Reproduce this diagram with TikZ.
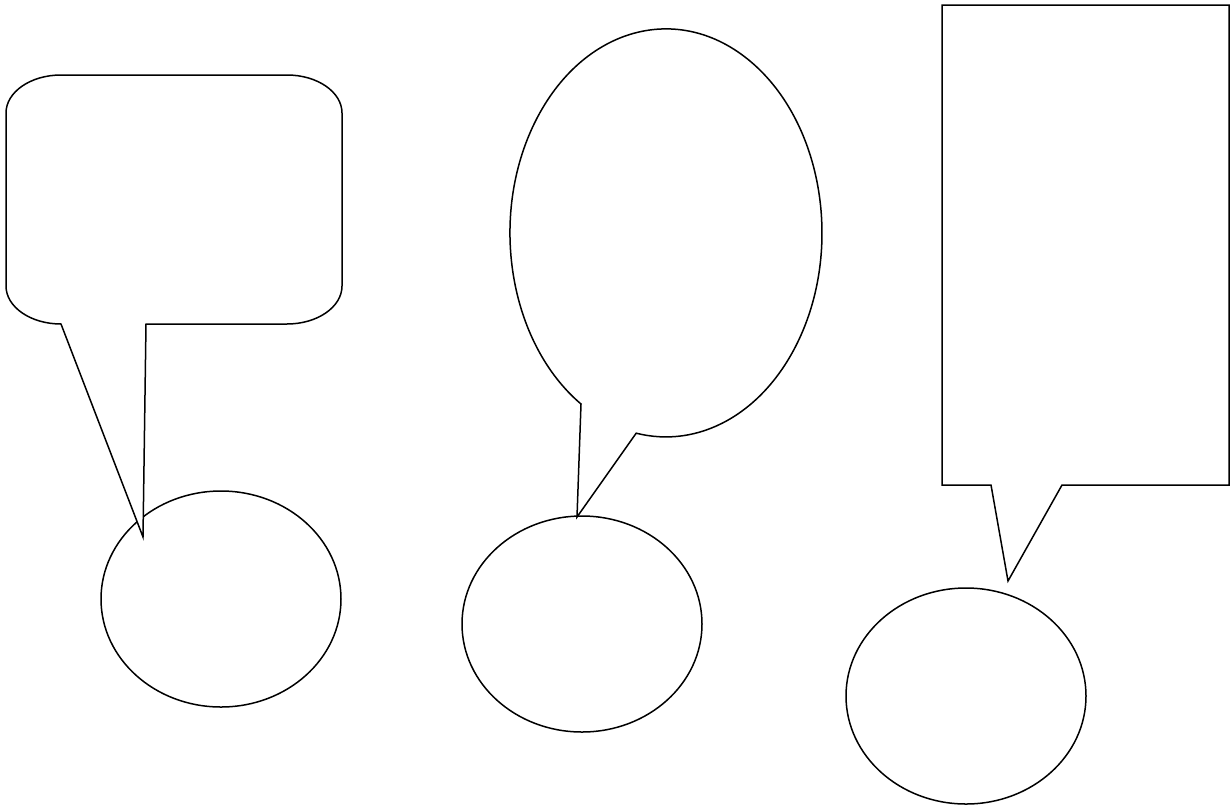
\documentclass[tikz,border=0pt]{standalone}
\usepackage{tikz}
\usetikzlibrary{shapes.geometric}

\begin{document}
\begin{tikzpicture}[x=1pt,y=1pt,
      bubble/.style={draw=black,fill=white,line width=1.5pt,line join=miter},
      listener/.style={ellipse,draw=black,fill=white,line width=1.5pt,
                       minimum width=240pt,minimum height=216pt,inner sep=0pt}]
    \useasboundingbox (0,0) rectangle (1230,-806);

    \foreach \i/\x/\y in {1/221/-599,2/582/-624,3/966/-696}{%
      \node[listener] (listener\i) at (\x,\y) {};
    }

    % rounded box with tail
    \draw[bubble] (61,-75) -- (287,-75)
      arc[start angle=90,end angle=0,x radius=55,y radius=38] -- (342,-286)
      arc[start angle=0,end angle=-90,x radius=55,y radius=38] -- (146,-324)
      -- (143,-537) -- (61,-324)
      arc[start angle=270,end angle=180,x radius=55,y radius=38] -- (6,-113)
      arc[start angle=180,end angle=90,x radius=55,y radius=38] -- cycle;

    % oval with tail
    \draw[bubble] (577,-517) -- (581,-404)
      arc[start angle=237,end angle=-101,x radius=156,y radius=204] -- cycle;

    % square box with tail
    \draw[bubble] (942,-5) -- (1229,-5) -- (1229,-485) -- (1062,-485)
      -- (1008,-581) -- (991,-485) -- (942,-485) -- cycle;
  \end{tikzpicture}
\end{document}
